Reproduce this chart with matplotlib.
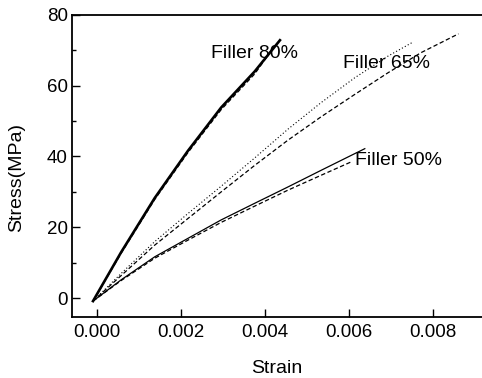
import matplotlib.pyplot as plt
from matplotlib.ticker import MultipleLocator

plt.rcParams['font.family'] = ['Liberation Sans', 'DejaVu Sans']

# Filler 80%
strain_80 = [-0.0001, 0.00057, 0.00137, 0.00216, 0.00295, 0.00375, 0.00435]
stress_80 = [-0.8, 13.0, 28.3, 41.6, 53.8, 64.0, 72.8]
strain_80d = [-0.0001, 0.00057, 0.00137, 0.00216, 0.00295, 0.00375, 0.0042]
stress_80d = [-0.8, 12.7, 27.9, 41.1, 53.2, 63.3, 70.8]

# Filler 65%
strain_65 = [-0.0001, 0.00057, 0.00137, 0.00216, 0.00295, 0.00375, 0.00454, 0.00533, 0.00613, 0.00692, 0.00752]
stress_65 = [-0.8, 7.0, 16.0, 23.9, 31.6, 39.6, 47.7, 55.2, 62.2, 68.3, 72.3]
strain_65d = [-0.0001, 0.00057, 0.00137, 0.00216, 0.00295, 0.00375, 0.00454, 0.00533, 0.00613, 0.00692, 0.00771, 0.0086]
stress_65d = [-0.8, 6.4, 15.0, 22.5, 30.0, 37.5, 44.6, 51.2, 57.5, 63.6, 69.3, 74.6]

# Filler 50%
strain_50 = [-0.0001, 0.00057, 0.00137, 0.00216, 0.00295, 0.00375, 0.00454, 0.00533, 0.00613, 0.00637]
stress_50 = [-0.8, 5.2, 11.7, 16.9, 22.1, 26.8, 31.4, 36.1, 40.8, 42.2]
strain_50d = [-0.0001, 0.00057, 0.00137, 0.00216, 0.00295, 0.00375, 0.00454, 0.00533, 0.00605]
stress_50d = [-0.8, 5.0, 11.3, 16.4, 21.4, 26.0, 30.5, 34.7, 38.5]

fig = plt.figure(figsize=(4.82, 3.78), dpi=100)
ax = fig.add_axes([72 / 482, 61.3 / 378, 410 / 482, 302 / 378])

ax.plot(strain_80, stress_80, color='black', lw=1.9, linestyle='-')
ax.plot(strain_80d, stress_80d, color='black', lw=0.9, linestyle=(0, (3.5, 2)))
ax.plot(strain_65, stress_65, color='black', lw=0.8, linestyle=(0, (1, 2)))
ax.plot(strain_65d, stress_65d, color='black', lw=0.9, linestyle=(0, (3.5, 2)))
ax.plot(strain_50, stress_50, color='black', lw=0.9, linestyle='-')
ax.plot(strain_50d, stress_50d, color='black', lw=0.9, linestyle=(0, (3.5, 2)))

ax.text(0.00271, 69.1, 'Filler 80%', fontsize=14, va='center', ha='left')
ax.text(0.00585, 66.2, 'Filler 65%', fontsize=14, va='center', ha='left')
ax.text(0.00613, 39.0, 'Filler 50%', fontsize=14, va='center', ha='left')

ax.set_xlim(-0.0006, 0.00916)
ax.set_ylim(-5.2, 80)
ax.set_xticks([0.0, 0.002, 0.004, 0.006, 0.008])
ax.set_xticklabels(['0.000', '0.002', '0.004', '0.006', '0.008'])
ax.set_yticks([0, 20, 40, 60, 80])
ax.yaxis.set_minor_locator(MultipleLocator(10))

ax.tick_params(axis='both', which='major', direction='in', length=6, width=1, labelsize=13.5)
ax.tick_params(axis='y', which='minor', direction='in', length=3, width=1)
ax.tick_params(axis='y', pad=3)
ax.tick_params(axis='x', pad=5)

ax.spines['right'].set_visible(False)
for s in ['left', 'bottom', 'top']:
    ax.spines[s].set_linewidth(1.3)

ax.set_xlabel('Strain', fontsize=14)
ax.set_ylabel('Stress(MPa)', fontsize=14)
ax.xaxis.label.set_va('center')
ax.yaxis.label.set_va('center')
ax.xaxis.set_label_coords(0.5, -0.17)
ax.yaxis.set_label_coords(-0.134, 0.46)

fig.savefig('out.png', dpi=100)
